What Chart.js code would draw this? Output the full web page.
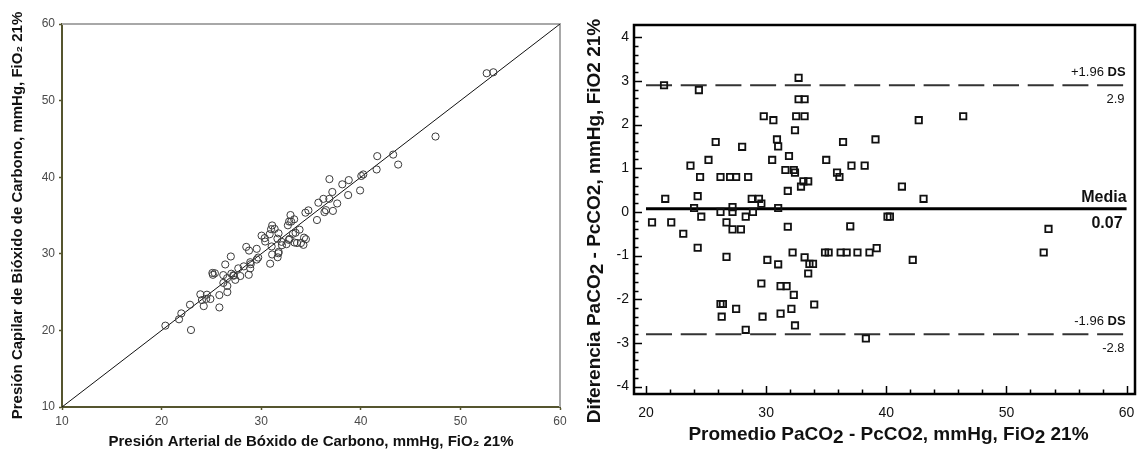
<!DOCTYPE html>
<html>
<head>
<meta charset="utf-8">
<script src="https://cdn.jsdelivr.net/npm/chart.js@4.4.1/dist/chart.umd.min.js"></script>
<style>
  html, body { margin: 0; padding: 0; background: #fff; }
  #wrap { position: relative; width: 1138px; height: 452px; }
  .box { position: absolute; top: 0; height: 452px; }
  #leftBox  { left: 0;     width: 580px; }
  #rightBox { left: 580px; width: 558px; }
</style>
</head>
<body>
<div id="wrap">
  <div class="box" id="leftBox"><canvas id="corrChart"></canvas></div>
  <div class="box" id="rightBox"><canvas id="baChart"></canvas></div>
</div>
<script>
const FONT = "'Liberation Sans', Arial, sans-serif";

// ---- Bland-Altman: mean of both methods and difference (PaCO2 - PcCO2) ----
const baMean = [21.5, 24.4, 32.7, 32.7, 33.2, 29.8, 30.6, 32.5, 33.2, 32.4,
                25.8, 28.0, 30.9, 31.0, 36.4, 39.1, 42.7, 46.4, 25.2, 23.7,
                30.5, 31.9, 35.0, 37.1, 38.2, 24.5, 26.2, 27.0, 27.5, 28.5,
                31.6, 32.3, 32.4, 35.9, 36.1, 31.8, 32.9, 33.1, 33.5, 41.3,
                21.6, 24.3, 28.8, 29.4, 29.6, 43.1, 24.0, 27.2, 31.0, 24.6,
                26.2, 27.2, 28.3, 28.9, 40.1, 40.3, 20.5, 22.1, 26.7, 31.8,
                37.0, 27.2, 27.9, 23.1, 53.5, 24.3, 26.7, 30.1, 31.0, 32.2,
                33.2, 33.6, 33.9, 33.5, 34.9, 35.2, 36.2, 36.7, 37.6, 38.6,
                39.2, 42.2, 53.1, 29.6, 31.2, 31.7, 32.3, 26.2, 26.4, 27.5,
                32.1, 34.0, 26.3, 29.7, 31.2, 32.4, 28.3, 38.3];
const baDiff = [2.90, 2.79, 3.07, 2.58, 2.58, 2.19, 2.10, 2.19, 2.19, 1.87,
                1.60, 1.49, 1.66, 1.50, 1.60, 1.66, 2.10, 2.19, 1.19, 1.06,
                1.19, 1.28, 1.19, 1.06, 1.06, 0.80, 0.80, 0.80, 0.80, 0.80,
                0.96, 0.96, 0.90, 0.90, 0.80, 0.48, 0.58, 0.70, 0.70, 0.58,
                0.30, 0.36, 0.30, 0.30, 0.19, 0.30, 0.09, 0.11, 0.09, -0.11,
                0.00, 0.00, -0.11, 0.00, -0.11, -0.11, -0.24, -0.24, -0.24, -0.34,
                -0.33, -0.40, -0.40, -0.50, -0.39, -0.82, -1.03, -1.10, -1.20, -0.93,
                -1.04, -1.19, -1.19, -1.41, -0.93, -0.93, -0.93, -0.93, -0.93, -0.93,
                -0.83, -1.10, -0.93, -1.64, -1.70, -1.70, -1.90, -2.11, -2.11, -2.22,
                -2.22, -2.12, -2.40, -2.40, -2.33, -2.60, -2.70, -2.90];

// ---- Arterial vs capillary values (same patients) ----
const arterial = [22.95, 25.80, 34.24, 33.99, 34.49, 30.90, 31.65, 33.60, 34.30, 33.34,
                  26.60, 28.75, 31.73, 31.75, 37.20, 39.93, 43.75, 47.50, 25.80, 24.23,
                  31.10, 32.54, 35.60, 37.63, 38.73, 24.90, 26.60, 27.40, 27.90, 28.90,
                  32.08, 32.78, 32.85, 36.35, 36.50, 32.04, 33.19, 33.45, 33.85, 41.59,
                  21.75, 24.48, 28.95, 29.55, 29.70, 43.25, 24.05, 27.26, 31.05, 24.55,
                  26.20, 27.20, 28.25, 28.90, 40.05, 40.25, 20.38, 21.98, 26.58, 31.63,
                  36.84, 27.00, 27.70, 22.85, 53.31, 23.89, 26.19, 29.55, 30.40, 31.74,
                  32.68, 33.01, 33.31, 32.80, 34.44, 34.74, 35.74, 36.24, 37.14, 38.14,
                  38.79, 41.65, 52.64, 28.78, 30.35, 30.85, 31.35, 25.15, 25.35, 26.39,
                  30.99, 32.94, 25.10, 28.50, 30.04, 31.10, 26.95, 36.85];
const capillary = [20.05, 23.00, 31.17, 31.41, 31.91, 28.71, 29.55, 31.41, 32.11, 31.47,
                   25.00, 27.26, 30.07, 30.25, 35.60, 38.27, 41.65, 45.31, 24.61, 23.17,
                   29.91, 31.26, 34.41, 36.57, 37.67, 24.10, 25.80, 26.60, 27.10, 28.10,
                   31.12, 31.82, 31.95, 35.45, 35.70, 31.56, 32.61, 32.75, 33.15, 41.01,
                   21.45, 24.12, 28.65, 29.25, 29.51, 42.95, 23.96, 27.15, 30.96, 24.66,
                   26.20, 27.20, 28.36, 28.90, 40.16, 40.36, 20.62, 22.22, 26.82, 31.97,
                   37.17, 27.40, 28.10, 23.35, 53.70, 24.71, 27.22, 30.65, 31.60, 32.67,
                   33.72, 34.20, 34.50, 34.21, 35.37, 35.67, 36.67, 37.17, 38.07, 39.07,
                   39.62, 42.75, 53.57, 30.42, 32.05, 32.55, 33.25, 27.26, 27.46, 28.61,
                   33.21, 35.06, 27.50, 30.90, 32.37, 33.70, 29.65, 39.75];

// ---- Reference lines and ticks ----
const identityLine = [10, 60];
const corrTicks = [10, 20, 30, 40, 50, 60];
const upperLimit = 2.9;
const meanDiff = 0.07;
const lowerLimit = -2.8;
const limitSpan = [20, 60];
const baXTicks = [20, 30, 40, 50, 60];
const baYTicks = [-4, -3, -2, -1, 0, 1, 2, 3, 4];
const baXMinor = 2;
const baYMinor = 0.2;

const olive = '#55552f';

// ---- Left chart: gray top/right frame ----
const corrFrame = {
  id: 'corrFrame',
  beforeDatasetsDraw(chart) {
    const { ctx, chartArea: a } = chart;
    ctx.save();
    ctx.strokeStyle = '#a8a8a8';
    ctx.lineWidth = 2;
    ctx.beginPath();
    ctx.moveTo(a.left, a.top); ctx.lineTo(a.right, a.top); ctx.lineTo(a.right, a.bottom);
    ctx.stroke();
    ctx.restore();
  }
};

new Chart(document.getElementById('corrChart'), {
  type: 'scatter',
  data: {
    datasets: [
      { type: 'line', data: identityLine.map(v => ({ x: v, y: v })), borderColor: '#111', borderWidth: 1, pointRadius: 0, order: 2 },
      { data: arterial.map((v, i) => ({ x: v, y: capillary[i] })), pointStyle: 'circle', pointRadius: 3.6,
        borderColor: '#3a3a3a', borderWidth: 1, backgroundColor: 'rgba(0,0,0,0)', order: 1 }
    ]
  },
  options: {
    responsive: true, maintainAspectRatio: false, animation: false,
    layout: { autoPadding: false, padding: { top: 24, right: 20, left: 0, bottom: 0 } },
    plugins: { legend: { display: false }, tooltip: { enabled: false } },
    scales: {
      x: {
        type: 'linear', min: 10, max: 60,
        afterBuildTicks: s => { s.ticks = corrTicks.map(v => ({ value: v })); },
        afterFit: s => { s.height = 45; },
        ticks: { color: '#4a4a4a', font: { family: FONT, size: 12 }, padding: 4, maxRotation: 0 },
        grid: { drawOnChartArea: false, tickLength: 3, color: olive, tickWidth: 1.5 },
        border: { color: olive, width: 2 },
        title: { display: true, text: 'Presión Arterial de Bóxido de Carbono, mmHg, FiO₂ 21%', color: '#111',
                 font: { family: FONT, size: 15, weight: 'bold' }, padding: { top: 0, bottom: 1 } }
      },
      y: {
        type: 'linear', min: 10, max: 60,
        afterBuildTicks: s => { s.ticks = corrTicks.map(v => ({ value: v })); },
        afterFit: s => { s.width = 62; },
        ticks: { color: '#4a4a4a', font: { family: FONT, size: 12 }, padding: 4 },
        grid: { drawOnChartArea: false, tickLength: 3, color: olive, tickWidth: 1.5 },
        border: { color: olive, width: 2 },
        title: { display: true, text: 'Presión Capilar de Bióxido de Carbono, mmHg, FiO₂ 21%', color: '#111',
                 font: { family: FONT, size: 15, weight: 'bold' }, padding: { top: 9, bottom: 0 } }
      }
    }
  },
  plugins: [corrFrame]
});

// ---- helper: text with lowered "2" parts ----
function richText(ctx, parts, x, y, align) {
  const total = parts.reduce((w, p) => w + ctx.measureText(p[0]).width, 0);
  let cx = align === 'center' ? x - total / 2 : align === 'right' ? x - total : x;
  ctx.textAlign = 'left';
  parts.forEach(p => { ctx.fillText(p[0], cx, y + p[1]); cx += ctx.measureText(p[0]).width; });
}

// ---- Right chart: frame, inward ticks, labels, titles ----
const baDecor = {
  id: 'baDecor',
  afterDatasetsDraw(chart) {
    const { ctx, chartArea: a, scales: { x, y } } = chart;
    ctx.save();
    ctx.strokeStyle = '#000';
    ctx.lineWidth = 1.5;
    ctx.beginPath();
    const y0 = baYTicks[0], y1 = baYTicks[baYTicks.length - 1];
    for (let k = 0; y0 + k * baYMinor <= y1 + 1e-6; k++) {
      const v = y0 + k * baYMinor;
      const py = Math.round(y.getPixelForValue(v)) + 0.5;
      const len = k % 5 === 0 ? 8 : 4.5;
      ctx.moveTo(a.left, py); ctx.lineTo(a.left + len, py);
    }
    const x0 = baXTicks[0], x1 = baXTicks[baXTicks.length - 1];
    for (let k = 0; x0 + k * baXMinor <= x1 + 1e-6; k++) {
      const v = x0 + k * baXMinor;
      const px = Math.round(x.getPixelForValue(v)) + 0.5;
      const len = k % 5 === 0 ? 8 : 4.5;
      ctx.moveTo(px, a.bottom); ctx.lineTo(px, a.bottom - len);
    }
    ctx.stroke();

    ctx.lineWidth = 2.5;
    ctx.strokeRect(a.left, a.top, a.right - a.left, a.bottom - a.top);

    // limit labels
    const rx = x.getPixelForValue(60) - 1;
    ctx.fillStyle = '#111';
    ctx.textBaseline = 'middle';
    const lim = (val, name) => {
      const py = y.getPixelForValue(val);
      ctx.font = 'bold 13px ' + FONT;
      ctx.textAlign = 'right';
      ctx.fillText('DS', rx, py - 13);
      const w = ctx.measureText('DS').width;
      ctx.font = '13px ' + FONT;
      ctx.fillText(name + ' ', rx - w, py - 13);
      ctx.fillText(val.toFixed(1), rx - 1, py + 14);
    };
    lim(upperLimit, '+1.96');
    lim(lowerLimit, '-1.96');
    const pm = y.getPixelForValue(meanDiff);
    ctx.font = 'bold 16px ' + FONT;
    ctx.textAlign = 'right';
    ctx.fillText('Media', rx + 1, pm - 11);
    ctx.fillText(meanDiff.toFixed(2), rx - 3, pm + 15);

    // axis titles
    ctx.font = 'bold 19px ' + FONT;
    ctx.textBaseline = 'alphabetic';
    richText(ctx, [['Promedio PaCO', 0], ['2', 3], [' - PcCO2, mmHg, FiO', 0], ['2', 3], [' 21%', 0]],
             (a.left + a.right) / 2 + 4, 440, 'center');
    ctx.translate(20, 221);
    ctx.rotate(-Math.PI / 2);
    richText(ctx, [['Diferencia PaCO', 0], ['2', 3], [' - PcCO2, mmHg, FiO2 21%', 0]], 0, 0, 'center');
    ctx.restore();
  }
};

new Chart(document.getElementById('baChart'), {
  type: 'scatter',
  data: {
    datasets: [
      { type: 'line', data: limitSpan.map(v => ({ x: v, y: upperLimit })), borderColor: '#333', borderWidth: 2,
        borderDash: [26, 8.7], pointRadius: 0, order: 3 },
      { type: 'line', data: limitSpan.map(v => ({ x: v, y: lowerLimit })), borderColor: '#333', borderWidth: 2,
        borderDash: [26, 8.7], pointRadius: 0, order: 3 },
      { type: 'line', data: limitSpan.map(v => ({ x: v, y: meanDiff })), borderColor: '#000', borderWidth: 3,
        pointRadius: 0, order: 2 },
      { data: baMean.map((v, i) => ({ x: v, y: baDiff[i] })), pointStyle: 'rect', pointRadius: 4.5,
        borderColor: '#111', borderWidth: 1.8, backgroundColor: 'rgba(0,0,0,0)', order: 1 }
    ]
  },
  options: {
    responsive: true, maintainAspectRatio: false, animation: false,
    layout: { autoPadding: false, padding: { top: 25, right: 3, left: 0, bottom: 0 } },
    plugins: { legend: { display: false }, tooltip: { enabled: false } },
    scales: {
      x: {
        type: 'linear', min: 19, max: 60.7,
        afterBuildTicks: s => { s.ticks = baXTicks.map(v => ({ value: v })); },
        afterFit: s => { s.height = 58; },
        ticks: { color: '#111', font: { family: FONT, size: 14 }, padding: 0, maxRotation: 0 },
        grid: { display: true, drawOnChartArea: false, drawTicks: true, tickLength: 11, tickColor: 'rgba(0,0,0,0)' },
        border: { display: false }
      },
      y: {
        type: 'linear', min: -4.17, max: 4.28,
        afterBuildTicks: s => { s.ticks = baYTicks.map(v => ({ value: v })); },
        afterFit: s => { s.width = 54; },
        ticks: { color: '#111', font: { family: FONT, size: 14 }, padding: 5 },
        grid: { display: false, drawTicks: false },
        border: { display: false }
      }
    }
  },
  plugins: [baDecor]
});
</script>
</body>
</html>
